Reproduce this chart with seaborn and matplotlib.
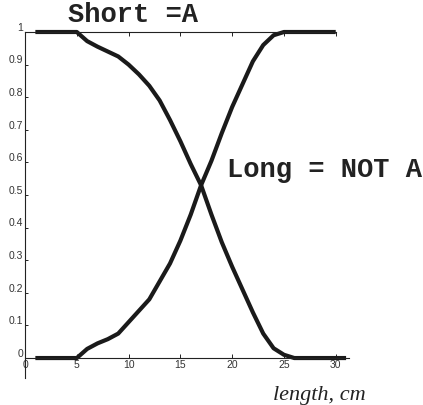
import matplotlib
matplotlib.use("Agg")
import matplotlib.pyplot as plt
import matplotlib.transforms as mtransforms
import numpy as np
import pandas as pd
import seaborn as sns

# Membership curves for "short" and "long" as a function of length (cm)
short_x = [1, 2, 3, 4, 5, 6, 7, 8, 9, 10, 11, 12, 13, 14, 15, 16, 17, 18, 19,
           20, 21, 22, 23, 24, 25, 26, 27, 28, 29, 30, 31]
short_y = [1.0, 1.0, 1.0, 1.0, 1.0, 0.972, 0.955, 0.94, 0.925, 0.90, 0.87,
           0.835, 0.79, 0.73, 0.665, 0.595, 0.53, 0.44, 0.355, 0.28, 0.21,
           0.14, 0.075, 0.03, 0.01, 0.0, 0.0, 0.0, 0.0, 0.0, 0.0]

long_x = [1, 2, 3, 4, 5, 6, 7, 8, 9, 10, 11, 12, 13, 14, 15, 16, 17, 18, 19,
          20, 21, 22, 23, 24, 25, 26, 27, 28, 29, 30]
long_y = [0.0, 0.0, 0.0, 0.0, 0.0, 0.028, 0.045, 0.058, 0.075, 0.11, 0.145,
          0.18, 0.235, 0.29, 0.36, 0.44, 0.53, 0.605, 0.69, 0.77, 0.84, 0.91,
          0.96, 0.99, 1.0, 1.0, 1.0, 1.0, 1.0, 1.0]

x_ticks = [0, 5, 10, 15, 20, 25, 30]
y_ticks = [0, 0.1, 0.2, 0.3, 0.4, 0.5, 0.6, 0.7, 0.8, 0.9, 1.0]
y_tick_labels = ["0", "0.1", "0.2", "0.3", "0.4", "0.5", "0.6", "0.7", "0.8", "0.9", "1"]

sns.set_style("ticks")
plt.rcParams["font.family"] = ["Liberation Sans", "DejaVu Sans"]

W, H = 423, 406
fig = plt.figure(figsize=(W / 100, H / 100), dpi=100)
ax = fig.add_axes([25 / W, (H - 378.6) / H, 324.2 / W, 345.6 / H])

df_short = pd.DataFrame({"length": short_x, "membership": short_y})
df_long = pd.DataFrame({"length": long_x, "membership": long_y})
sns.lineplot(data=df_short, x="length", y="membership", ax=ax,
             color="#1a1a1a", linewidth=3.0)
sns.lineplot(data=df_long, x="length", y="membership", ax=ax,
             color="#1a1a1a", linewidth=3.0)
for ln in ax.lines:
    ln.set_clip_on(False)
    ln.set_solid_joinstyle("round")
    ln.set_solid_capstyle("butt")

ax.set_xlim(0, 31.3)
ax.set_ylim(-0.06, 1.0)
ax.set_xlabel("")
ax.set_ylabel("")

# Axis lines: x axis sits at y = 0, thin frame line along y = 1
ax.spines["right"].set_visible(False)
ax.spines["bottom"].set_position(("data", 0))
ax.spines["top"].set_bounds(0, 30)
for s in ("left", "bottom", "top"):
    ax.spines[s].set_linewidth(0.8)
    ax.spines[s].set_color("#222222")

ax.set_xticks(x_ticks)
ax.set_xticklabels([str(t) for t in x_ticks])
ax.set_yticks(y_ticks)
ax.set_yticklabels(y_tick_labels)
ax.tick_params(axis="x", direction="in", length=3, width=0.7, pad=0.8,
               labelsize=7.5, labelcolor="#333333", color="#222222",
               top=True)
ax.tick_params(axis="y", direction="in", length=2, width=0.7, pad=1.5,
               labelsize=7.5, labelcolor="#333333", color="#222222")

# Lift the y tick labels slightly above their ticks
shift = mtransforms.ScaledTranslation(0, 4.5 / 72, fig.dpi_scale_trans)
for lab in ax.get_yticklabels():
    lab.set_transform(lab.get_transform() + shift)

mono = ["Liberation Mono", "DejaVu Sans Mono"]
fig.text(68 / W, 1 - 15 / H, "Short =A", family=mono, weight="bold",
         fontsize=19.5, ha="left", va="center", color="#222222")
fig.text(227 / W, 1 - 170 / H, "Long = NOT A", family=mono, weight="bold",
         fontsize=19.5, ha="left", va="center", color="#222222")
fig.text(273 / W, 1 - 400 / H, "length, cm",
         family=["Liberation Serif", "DejaVu Serif"], style="italic",
         fontsize=16, ha="left", va="baseline", color="#222222")

fig.savefig("out.png", dpi=100)
